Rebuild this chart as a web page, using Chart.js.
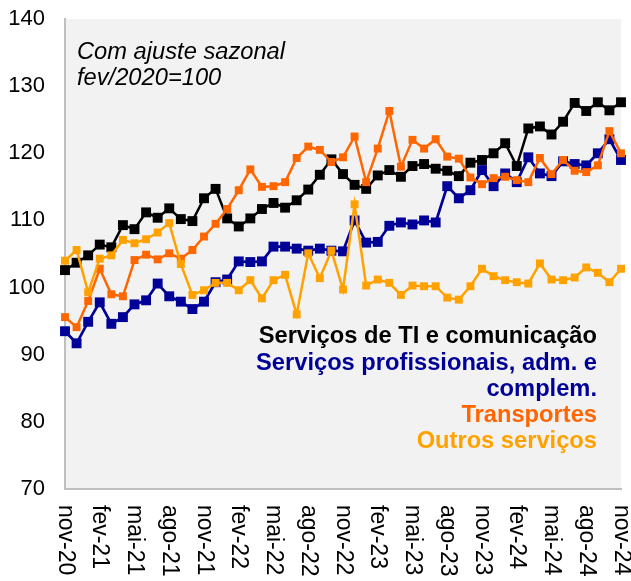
<!DOCTYPE html>
<html>
<head>
<meta charset="utf-8">
<script src="https://cdn.jsdelivr.net/npm/chart.js@4.4.1/dist/chart.umd.min.js"></script>
<style>
  html, body { margin: 0; padding: 0; background: #ffffff; }
  canvas { display: block; }
</style>
</head>
<body>
<canvas id="c" width="631" height="581"></canvas>
<script>
// ---- Data ----
const months = [
  'nov-20','dez-20','jan-21','fev-21','mar-21','abr-21','mai-21','jun-21','jul-21','ago-21','set-21','out-21',
  'nov-21','dez-21','jan-22','fev-22','mar-22','abr-22','mai-22','jun-22','jul-22','ago-22','set-22','out-22',
  'nov-22','dez-22','jan-23','fev-23','mar-23','abr-23','mai-23','jun-23','jul-23','ago-23','set-23','out-23',
  'nov-23','dez-23','jan-24','fev-24','mar-24','abr-24','mai-24','jun-24','jul-24','ago-24','set-24','out-24',
  'nov-24'
];
const tickLabels = ['nov-20','fev-21','mai-21','ago-21','nov-21','fev-22','mai-22','ago-22','nov-22',
  'fev-23','mai-23','ago-23','nov-23','fev-24','mai-24','ago-24','nov-24'];
const yTicks = [70, 80, 90, 100, 110, 120, 130, 140];

const tiComunicacao = [
  102.6, 103.7, 104.8, 106.4, 106.0, 109.3, 108.7, 111.2, 110.4, 111.8, 110.2, 109.9,
  113.3, 114.7, 110.3, 109.1, 110.3, 111.7, 112.6, 111.9, 113.0, 114.6, 116.8, 119.1,
  116.9, 115.3, 114.7, 116.7, 117.5, 116.5, 118.1, 118.4, 117.7, 117.4, 116.6, 118.6,
  119.0, 120.0, 121.5, 118.1, 123.7, 124.0, 122.8, 124.7, 127.5, 126.3, 127.6, 126.4, 127.6
];
const profissionais = [
  93.5, 91.7, 94.9, 97.8, 94.6, 95.6, 97.5, 98.1, 100.6, 98.7, 97.9, 96.8,
  97.9, 100.8, 101.2, 103.9, 103.8, 103.9, 106.1, 106.1, 105.8, 105.5, 105.8, 105.5,
  105.4, 110.0, 106.7, 106.8, 109.2, 109.7, 109.4, 110.0, 109.7, 115.1, 113.3, 114.5,
  117.5, 115.1, 117.0, 115.7, 119.4, 117.0, 116.6, 118.8, 118.4, 118.2, 120.0, 122.1, 119.0
];
const transportes = [
  95.6, 94.1, 98.0, 102.8, 99.0, 98.7, 104.1, 104.9, 104.2, 105.1, 104.3, 105.6,
  107.6, 109.5, 111.7, 114.5, 117.6, 115.0, 115.1, 115.7, 119.3, 121.0, 120.5, 118.7,
  119.4, 122.5, 115.7, 120.7, 126.3, 118.0, 122.0, 120.7, 122.1, 119.5, 119.2, 116.4,
  115.4, 116.3, 116.5, 116.0, 115.7, 119.3, 116.9, 119.0, 117.4, 117.2, 118.2, 123.3, 120.0
];
const outrosServicos = [
  104.0, 105.6, 99.3, 104.3, 104.8, 107.1, 106.6, 107.2, 108.2, 109.6, 103.5, 98.9,
  99.6, 100.7, 100.7, 99.6, 101.1, 98.4, 101.1, 101.9, 96.0, 105.1, 101.4, 105.5,
  99.7, 112.4, 100.3, 101.2, 100.7, 98.9, 100.3, 100.2, 100.2, 98.5, 98.2, 100.2,
  102.8, 101.7, 101.1, 100.8, 100.6, 103.6, 101.2, 101.1, 101.5, 103.0, 102.2, 100.8, 102.8
];

const seriesNames = ['Serviços de TI e comunicação', 'Serviços profissionais, adm. e complem.', 'Transportes', 'Outros serviços'];
const legendLines = [
  ['Serviços de TI e comunicação', '#000000'],
  ['Serviços profissionais, adm. e', '#000099'],
  ['complem.', '#000099'],
  ['Transportes', '#ff6600'],
  ['Outros serviços', '#ffa200']
];
const noteLines = ['Com ajuste sazonal', 'fev/2020=100'];

const FONT = '"Liberation Sans", Arial, Helvetica, sans-serif';

const decorPlugin = {
  id: 'decor',
  beforeDraw(chart) {
    const {ctx, chartArea: a} = chart;
    ctx.save();
    ctx.fillStyle = '#f2f2f2';
    ctx.fillRect(a.left, a.top, a.right - a.left, a.bottom - a.top);
    ctx.restore();
  },
  beforeDatasetsDraw(chart) {
    const {ctx} = chart;
    ctx.save();
    ctx.fillStyle = '#000000';
    ctx.font = 'italic 23.7px ' + FONT;
    ctx.textAlign = 'left';
    ctx.textBaseline = 'alphabetic';
    ctx.fillText(noteLines[0], 77, 59);
    ctx.fillText(noteLines[1], 77, 85);
    ctx.font = 'bold 23.7px ' + FONT;
    ctx.textAlign = 'right';
    const baselines = [343, 369.5, 396, 422, 448];
    legendLines.forEach((l, i) => {
      ctx.fillStyle = l[1];
      ctx.fillText(l[0], 597, baselines[i]);
    });
    ctx.restore();
  },
  afterDraw(chart) {
    const {ctx} = chart;
    const xs = chart.scales.x;
    ctx.save();
    ctx.fillStyle = '#000000';
    ctx.font = '23px ' + FONT;
    ctx.textAlign = 'left';
    ctx.textBaseline = 'middle';
    months.forEach((m, i) => {
      if (tickLabels.indexOf(m) === -1) return;
      const px = xs.getPixelForValue(i);
      ctx.save();
      ctx.translate(px, 505);
      ctx.rotate(Math.PI / 2);
      ctx.fillText(m, 0, 0);
      ctx.restore();
    });
    ctx.restore();
  }
};

function ds(label, data, color, lw, r, order) {
  return {
    label, data,
    borderColor: color, backgroundColor: color,
    borderWidth: lw, pointStyle: 'rect', pointRadius: r,
    pointBorderWidth: 0, pointBackgroundColor: color, pointBorderColor: color,
    tension: 0, fill: false, clip: false, order
  };
}

new Chart(document.getElementById('c'), {
  type: 'line',
  data: {
    labels: months,
    datasets: [
      ds(seriesNames[0], tiComunicacao, '#000000', 2.5, 7, 3),
      ds(seriesNames[1], profissionais, '#000099', 2.7, 7, 2),
      ds(seriesNames[2], transportes, '#ff6600', 2.5, 5.6, 1),
      ds(seriesNames[3], outrosServicos, '#ffa200', 2.5, 5.6, 0)
    ]
  },
  options: {
    responsive: false,
    animation: false,
    devicePixelRatio: 1,
    layout: { padding: { top: 19, right: 10, left: 0, bottom: 0 } },
    plugins: { legend: { display: false }, tooltip: { enabled: false } },
    scales: {
      x: {
        type: 'category',
        offset: false,
        grid: { display: false, drawTicks: false },
        border: { display: true, color: '#bfbfbf', width: 2 },
        ticks: { display: false },
        afterFit(s) { s.height = 92; s.paddingLeft = 0; s.paddingRight = 0; }
      },
      y: {
        min: 70, max: 140,
        grid: { display: false, drawTicks: false },
        border: { display: true, color: '#bfbfbf', width: 2 },
        afterBuildTicks(s) { s.ticks = yTicks.map(v => ({ value: v })); },
        ticks: {
          color: '#000000',
          padding: 20,
          font: { family: FONT, size: 22 }
        },
        afterFit(s) { s.width = 65; s.paddingTop = 0; s.paddingBottom = 0; }
      }
    }
  },
  plugins: [decorPlugin]
});
</script>
</body>
</html>
